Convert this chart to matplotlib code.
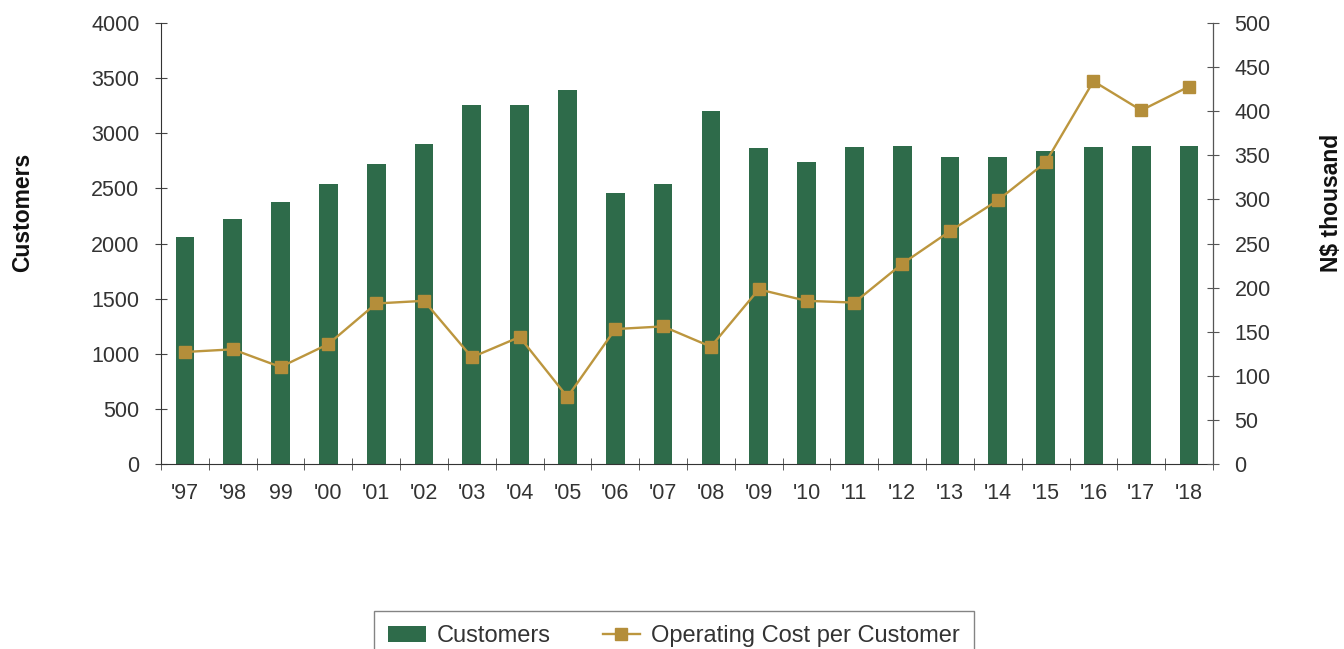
#!/usr/bin/env python3
"""Customers vs operating cost per customer, '97 - '18."""

import matplotlib
matplotlib.use('Agg')
import matplotlib.pyplot as plt
import numpy as np

plt.rcParams['font.family'] = ['Liberation Sans', 'DejaVu Sans']

years = ["'97", "'98", "99", "'00", "'01", "'02", "'03", "'04", "'05", "'06", "'07",
         "'08", "'09", "'10", "'11", "'12", "'13", "'14", "'15", "'16", "'17", "'18"]
customers = [2060, 2220, 2380, 2540, 2720, 2900, 3260, 3260, 3390, 2460, 2540,
             3200, 2870, 2740, 2873, 2887, 2788, 2788, 2839, 2873, 2887, 2887]
cost_per_customer = [127, 130, 110, 136, 182, 185, 121, 144, 76, 153, 156,
                     133, 198, 185, 183, 227, 264, 299, 342, 434, 401, 428]

BAR_COLOR = '#2E6B4A'
LINE_COLOR = '#BC963E'
MARKER_COLOR = '#B48E3A'
TEXT_COLOR = '#333333'
TICK_SIZE = 15.5

fig = plt.figure(figsize=(13.44, 6.49), dpi=100)
ax = fig.add_axes([161 / 1344, 1 - 464 / 649, (1213 - 161) / 1344, (464 - 23) / 649])
ax2 = ax.twinx()

x = np.arange(len(years))
ax.bar(x, customers, width=0.39, color=BAR_COLOR, zorder=2, label='Customers')
ax2.plot(x, cost_per_customer, color=LINE_COLOR, linewidth=1.7, marker='s',
         markersize=9, markerfacecolor=MARKER_COLOR, markeredgecolor=MARKER_COLOR,
         zorder=3, label='Operating Cost per Customer')

ax.set_xlim(-0.5, len(years) - 0.5)
ax.set_ylim(0, 4000)
ax.set_yticks(np.arange(0, 4001, 500))
ax2.set_ylim(0, 500)
ax2.set_yticks(np.arange(0, 501, 50))

# category labels centred, ticks at boundaries
ax.set_xticks(x)
ax.set_xticklabels(years)
ax.set_xticks(np.arange(-0.5, len(years)), minor=True)
ax.tick_params(axis='x', which='major', length=0, pad=14, labelsize=TICK_SIZE,
               labelcolor=TEXT_COLOR)
ax.tick_params(axis='x', which='minor', length=9, direction='inout', color='#444444')
ax.tick_params(axis='y', length=9, direction='inout', labelsize=TICK_SIZE,
               labelcolor=TEXT_COLOR, color='#444444', pad=11)
ax2.tick_params(axis='y', length=9, direction='inout', labelsize=TICK_SIZE,
                labelcolor=TEXT_COLOR, color='#555555', pad=11)

for a in (ax, ax2):
    a.spines['top'].set_visible(False)
ax.spines['left'].set_color('#333333')
ax.spines['bottom'].set_color('#333333')
ax2.spines['right'].set_color('#555555')
ax2.spines['left'].set_visible(False)
ax2.spines['bottom'].set_visible(False)

fig.text(23 / 1344, 1 - 212 / 649, 'Customers', rotation=90, fontsize=16.5,
         fontweight='bold', color='#111111', ha='center', va='center')
fig.text(1331 / 1344, 1 - 203 / 649, 'N$ thousand', rotation=90, fontsize=16.5,
         fontweight='bold', color='#111111', ha='center', va='center')

h1, l1 = ax.get_legend_handles_labels()
h2, l2 = ax2.get_legend_handles_labels()
leg = fig.legend(h1 + h2, l1 + l2, loc='upper center', ncol=2,
                 bbox_to_anchor=(674 / 1344, 1 - 611 / 649), fontsize=17,
                 frameon=True, fancybox=False, edgecolor='#666666',
                 handlelength=1.6, columnspacing=2.2, borderpad=0.6,
                 handletextpad=0.45, borderaxespad=0)
leg.get_frame().set_linewidth(1.0)
for t in leg.get_texts():
    t.set_color(TEXT_COLOR)

fig.savefig('out.png', dpi=100)
